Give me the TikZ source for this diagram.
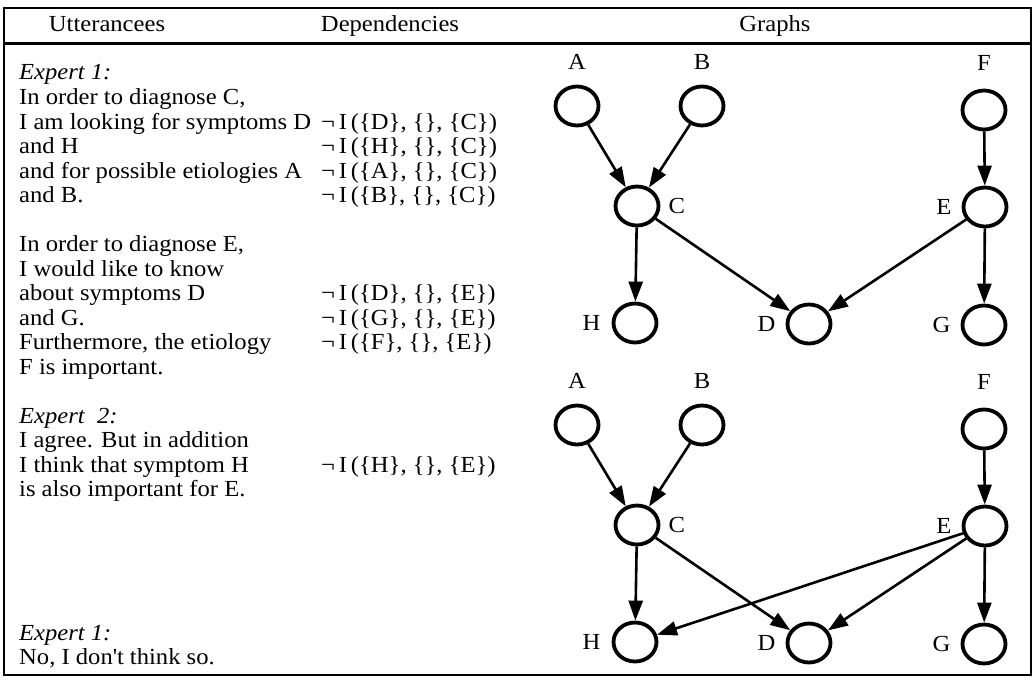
\documentclass[tikz,border=0pt]{standalone}
\usepackage{fontspec}
\setmainfont{Liberation Serif}[FakeStretch=1.07]
\usetikzlibrary{arrows.meta,shapes.geometric,positioning}

\newcommand{\notindep}[2]{¬\,I\,(\{#1\}, \{\}, \{#2\})}

\tikzset{
  utt/.style={anchor=base west, inner sep=0pt, font=\fontsize{23}{24}\selectfont},
  lbl/.style={inner sep=0pt, font=\fontsize{23}{24}\selectfont},
  vertex/.style={draw, ellipse, line width=3.8pt, minimum width=43pt, minimum height=39pt, inner sep=0pt},
  edge/.style={line width=2.6pt, -{Triangle[length=20pt,width=14pt]}},
}

\begin{document}
\begin{tikzpicture}[x=1pt,y=-1pt]
  \useasboundingbox (0,0) rectangle (1035,682);

  % Rahmen und Kopfzeile
  \draw[line width=2.6pt] (4,8) rectangle (1031,675);
  \draw[line width=2.2pt] (4,43.5) -- (1031,43.5);
  \node[lbl, anchor=base] (hutt) at (107,32) {Utterancees};
  \node[lbl, anchor=base] (hdep) at (390,32) {Dependencies};
  \node[lbl, anchor=base] (hgra) at (775,32) {Graphs};

  % Aeusserungen
  \foreach \ln [count=\i from 0] in {{\textit{Expert 1:}}, {In order to diagnose C,},
      {I am looking for symptoms D}, {and H}, {and for possible etiologies A}, {and B.}}
    \node[utt] (ua\i) at (19,80+24.5*\i) {\ln};
  \foreach \ln [count=\i from 0] in {{In order to diagnose E,}, {I would like to know},
      {about symptoms D}, {and G.}, {Furthermore, the etiology}, {F is important.}}
    \node[utt] (ub\i) at (19,251.5+24.5*\i) {\ln};
  \foreach \ln [count=\i from 0] in {{\textit{Expert~ 2:}}, {I agree. But in addition},
      {I think that symptom H}, {is also important for E.}}
    \node[utt] (uc\i) at (19,423+24.5*\i) {\ln};
  \node[utt] (ud0) at (19,640) {\textit{Expert 1:}};
  \node[utt] (ud1) at (19,664) {No, I don\textquotesingle t think so.};

  % Abhaengigkeiten
  \foreach \v [count=\i from 0] in {D,H,A,B}
    \node[utt] (da\i) at (321,129+24.5*\i) {\notindep{\v}{C}};
  \foreach \v [count=\i from 0] in {D,G,F}
    \node[utt] (db\i) at (321,300.5+24.5*\i) {\notindep{\v}{E}};
  \node[utt] (dc0) at (321,472) {\notindep{H}{E}};

  % Graphen
  \foreach \g/\dy in {1/0,2/319} {
    \node[vertex] (A\g) at (577,106+\dy) {};
    \node[vertex] (B\g) at (702,106+\dy) {};
    \node[vertex] (F\g) at (984,110+\dy) {};
    \node[vertex] (C\g) at (637,206+\dy) {};
    \node[vertex] (E\g) at (985,207+\dy) {};
    \node[vertex] (H\g) at (635,323+\dy) {};
    \node[vertex] (D\g) at (809,324+\dy) {};
    \node[vertex] (G\g) at (984,325+\dy) {};

    \node[lbl, above=15pt of A\g] (lA\g) {A};
    \node[lbl, above=15pt of B\g] (lB\g) {B};
    \node[lbl, above=18pt of F\g] (lF\g) {F};
    \node[lbl, right=8pt of C\g] (lC\g) {C};
    \node[lbl, left=10pt of E\g] (lE\g) {E};
    \node[lbl, left=11pt of H\g] (lH\g) {H};
    \node[lbl, left=10pt of D\g] (lD\g) {D};
    \node[lbl, left=10pt of G\g] (lG\g) {G};

    \draw[edge] (A\g) -- (C\g);
    \draw[edge] (B\g) -- (C\g);
    \draw[edge] (F\g) -- (E\g);
    \draw[edge] (C\g) -- (H\g);
    \draw[edge] (C\g) -- (D\g);
    \draw[edge] (E\g) -- (D\g);
    \draw[edge] (E\g) -- (G\g);
  }
  \draw[edge] (E2) -- (H2);
\end{tikzpicture}
\end{document}
